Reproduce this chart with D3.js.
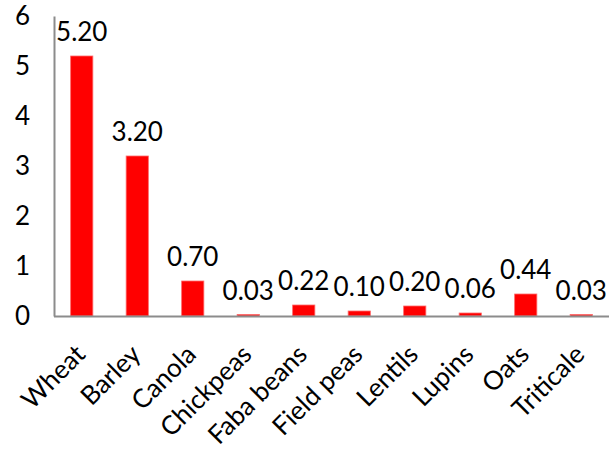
<!DOCTYPE html>
<html>
<head>
<meta charset="utf-8">
<script src="https://cdn.jsdelivr.net/npm/d3@7"></script>
<style>
  html, body { margin: 0; padding: 0; background: #fff; }
  svg { display: block; font-family: Lato, "Open Sans", sans-serif; }
</style>
</head>
<body>
<svg id="chart" width="609" height="449"></svg>
<script>
// Crop production values by crop type
const crops = ["Wheat", "Barley", "Canola", "Chickpeas", "Faba beans", "Field peas", "Lentils", "Lupins", "Oats", "Triticale"];
const values = [5.20, 3.20, 0.70, 0.03, 0.22, 0.10, 0.20, 0.06, 0.44, 0.03];
const yTicks = [0, 1, 2, 3, 4, 5, 6];

const svg = d3.select("#chart");
const margin = { left: 54, right: 0, top: 16, bottom: 133 };
const W = 609, H = 449;
const FONT = "Lato, 'Open Sans', sans-serif";

const x = d3.scaleBand()
  .domain(crops)
  .range([margin.left, W - margin.right])
  .paddingInner(0.6)
  .paddingOuter(0.3);

const y = d3.scaleLinear()
  .domain([0, 6])
  .range([H - margin.bottom, margin.top]);

// Bars
svg.append("g")
  .selectAll("rect")
  .data(values)
  .join("rect")
  .attr("x", (d, i) => x(crops[i]))
  .attr("width", x.bandwidth())
  .attr("y", d => y(d))
  .attr("height", d => y(0) - y(d))
  .attr("fill", "#ff0000")
  .attr("stroke", "#ff6a6a")
  .attr("stroke-width", 0.8);

// Value labels above bars
svg.append("g")
  .selectAll("text")
  .data(values)
  .join("text")
  .attr("x", (d, i) => x(crops[i]) + x.bandwidth() / 2)
  .attr("y", d => y(d) - 15)
  .attr("text-anchor", "middle")
  .attr("font-size", 26)
  .attr("fill", "#000")
  .text(d => d.toFixed(2));

// Y axis
const yAxis = svg.append("g")
  .attr("transform", `translate(${margin.left},0)`)
  .call(d3.axisLeft(y).tickValues(yTicks).tickSize(0).tickPadding(24).tickFormat(d3.format("d")));
yAxis.select(".domain").attr("stroke", "#8c8c8c").attr("stroke-width", 2);
yAxis.selectAll("text").attr("font-size", 26).attr("fill", "#000").attr("font-family", FONT);

// X axis
const xAxis = svg.append("g")
  .attr("transform", `translate(0,${y(0)})`)
  .call(d3.axisBottom(x).tickSize(0).tickPadding(0));
xAxis.select(".domain")
  .attr("d", `M${margin.left},0.5H${W}`)
  .attr("stroke", "#8c8c8c").attr("stroke-width", 2);
xAxis.selectAll("text")
  .attr("font-size", 26)
  .attr("fill", "#000")
  .attr("font-family", FONT)
  .attr("text-anchor", "end")
  .attr("dy", null)
  .attr("transform", "translate(5,40) rotate(-45)");
</script>
</body>
</html>
